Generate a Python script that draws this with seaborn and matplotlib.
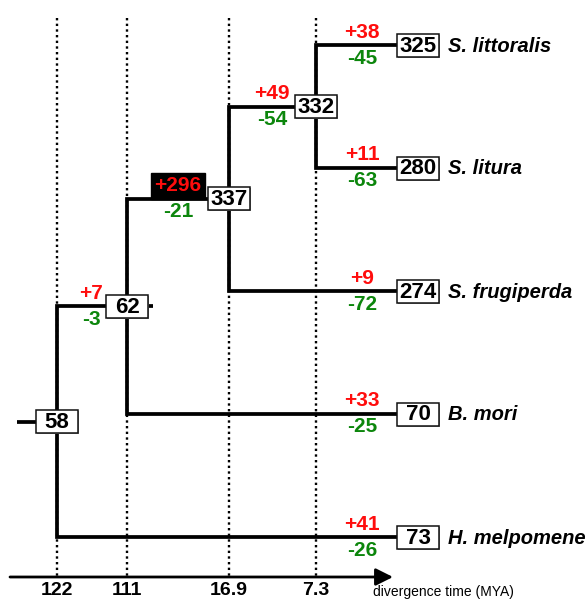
import pandas as pd
import matplotlib
matplotlib.use("Agg")
import matplotlib.pyplot as plt
import seaborn as sns
from matplotlib.patches import Rectangle

# ---- data ----
leaf_names = ["S. littoralis", "S. litura", "S. frugiperda", "B. mori", "H. melpomene"]
leaf_counts = [325, 280, 274, 70, 73]

# internal nodes: count, column (divergence time), children
node_ids = ["n332", "n337", "n62", "n58"]
node_counts = [332, 337, 62, 58]
node_cols = [3, 2, 1, 0]
node_children = [
    ["S. littoralis", "S. litura"],
    ["n332", "S. frugiperda"],
    ["n337", "B. mori"],
    ["n62", "H. melpomene"],
]

# gains / losses on the branch leading to each node
branch_to = ["S. littoralis", "S. litura", "S. frugiperda", "B. mori", "H. melpomene",
             "n332", "n337", "n62"]
gains = [38, 11, 9, 33, 41, 49, 296, 7]
losses = [45, 63, 72, 25, 26, 54, 21, 3]

time_labels = ["122", "111", "16.9", "7.3"]

# ---- layout (pixels) ----
W, H = 588, 599
COL_X = [57, 127, 229, 316]
LEAF_X = 397
BOX_W, BOX_H = 42, 23
LEAF_Y0, LEAF_DY = 45, 123
AXIS_Y = 577
RED = "#ff0d0d"
GREEN = "#0c860c"
FONT = "Liberation Sans"

sns.set_theme(style="white")
plt.rcParams["font.family"] = [FONT, "DejaVu Sans"]
plt.rcParams["text.color"] = "black"

# node positions from tree structure
pos = {}
for i, name in enumerate(leaf_names):
    pos[name] = (LEAF_X, LEAF_Y0 + i * LEAF_DY)
for nid, col, kids in zip(node_ids, node_cols, node_children):
    ys = [pos[k][1] for k in kids]
    pos[nid] = (COL_X[col], sum(ys) / len(ys))

# elbow branch segments
rows = []
seg = 0
for nid, kids in zip(node_ids, node_children):
    px, py = pos[nid]
    for k in kids:
        cx, cy = pos[k]
        for x, y in [(px, py), (px, cy), (cx, cy)]:
            rows.append({"seg": seg, "x": x, "y": y})
        seg += 1
root_x, root_y = pos["n58"]
for x in [17, root_x]:
    rows.append({"seg": seg, "x": x, "y": root_y})
seg += 1
# little stub right of node 62
x62, y62 = pos["n62"]
for x in [x62, x62 + 26]:
    rows.append({"seg": seg, "x": x, "y": y62})
branches = pd.DataFrame(rows)

fig = plt.figure(figsize=(W / 100, H / 100), dpi=100)
ax = fig.add_axes([0, 0, 1, 1])
ax.set_xlim(0, W)
ax.set_ylim(H, 0)
ax.axis("off")

# dotted time guides
for x in COL_X:
    ax.plot([x, x], [18, AXIS_Y], color="black", lw=1.7, ls=(0, (1, 1.4)), zorder=1)

sns.lineplot(data=branches, x="x", y="y", units="seg", estimator=None, sort=False,
             color="black", lw=2.7, ax=ax, zorder=2, legend=False)
for line in ax.lines:
    line.set_solid_joinstyle("miter")
    line.set_solid_capstyle("butt")
ax.set_xlabel("")
ax.set_ylabel("")

# time axis
ax.annotate("", xy=(393, AXIS_Y), xytext=(10, AXIS_Y),
            arrowprops=dict(arrowstyle="-|>", lw=2, color="black", mutation_scale=26,
                            shrinkA=0, shrinkB=0))
for x, lab in zip(COL_X, time_labels):
    ax.text(x, 599, lab, ha="center", va="bottom", fontsize=14, fontweight="bold")
ax.text(373, 592, "divergence time (MYA)", ha="left", va="center", fontsize=10)


def box(cx, cy, value):
    ax.add_patch(Rectangle((cx - BOX_W / 2 + 1.2, cy - BOX_H / 2 + 1.2), BOX_W, BOX_H,
                           facecolor="#999999", edgecolor="none", zorder=3.9))
    ax.add_patch(Rectangle((cx - BOX_W / 2, cy - BOX_H / 2), BOX_W, BOX_H,
                           facecolor="white", edgecolor="#111111", lw=1.1, zorder=4))
    ax.text(cx, cy + 1, str(value), ha="center", va="center", fontsize=16,
            fontweight="bold", zorder=5)


for name, cnt in zip(leaf_names, leaf_counts):
    x, y = pos[name]
    box(x + BOX_W / 2, y, cnt)
    ax.text(x + 51, y + 1, name, ha="left", va="center", fontsize=14.5,
            fontweight="bold", style="italic")
for nid, cnt in zip(node_ids, node_counts):
    x, y = pos[nid]
    box(x, y, cnt)

# gain/loss labels: centre offset left of the child
label_dx = {"n332": 44, "n337": 51, "n62": 36}
for tgt, g, l in zip(branch_to, gains, losses):
    x, y = pos[tgt]
    lx = x - label_dx[tgt] if tgt in label_dx else 362
    kw = {}
    if g >= 100:
        kw["bbox"] = dict(boxstyle="square,pad=0.18", facecolor="black", edgecolor="black")
    ax.text(lx, y - 13, f"+{g}", ha="center", va="center", color=RED, fontsize=15,
            fontweight="bold", zorder=3, **kw)
    ax.text(lx, y + 13, f"-{l}", ha="center", va="center", color=GREEN, fontsize=15,
            fontweight="bold", zorder=3)

fig.savefig("out.png", dpi=100)
